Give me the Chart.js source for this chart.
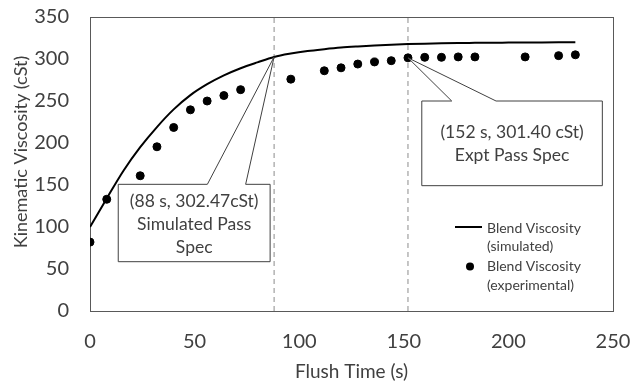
<!DOCTYPE html>
<html lang="en">
<head>
  <meta charset="UTF-8">
  <title>Blend Viscosity vs Flush Time</title>
  <script src="https://cdn.jsdelivr.net/npm/chart.js"></script>
  <style>
    html, body { margin: 0; padding: 0; background: #fff; }
    #wrap { width: 637px; height: 383px; }
  </style>
</head>
<body>
  <div id="wrap"><canvas id="viscChart" width="637" height="383"></canvas></div>

  <script>
    // simulated curve
    const simTime = [0, 8, 16, 24, 32, 40, 48, 56, 64, 72, 80, 88, 96, 104, 112, 120, 128, 136, 144, 152, 160, 168, 176, 184, 192, 200, 208, 216, 224, 232];
    const simVisc = [100, 134, 167, 195, 219, 240, 257, 270, 280.5, 289, 296, 302.47, 306.5, 309.5, 311.7, 313.6, 315, 316.2, 317.1, 317.8, 318.3, 318.7, 319, 319.2, 319.4, 319.5, 319.6, 319.7, 319.8, 319.9];

    // experimental points
    const expTime = [0, 8, 24, 32, 40, 48, 56, 64, 72, 96, 112, 120, 128, 136, 144, 152, 160, 168, 176, 184, 208, 224, 232];
    const expVisc = [82, 133, 161, 195.5, 218.5, 239.5, 250, 256.5, 263.5, 276, 286, 289.5, 294, 296.5, 298, 301.4, 302, 302, 302.5, 302.5, 302.5, 304, 305];

    // pass spec markers
    const specTime = [88, 152];
    const specVisc = [302.47, 301.40];
    const specText = [
      ['(88 s, 302.47cSt)', 'Simulated Pass', 'Spec'],
      ['(152 s, 301.40 cSt)', 'Expt Pass Spec']
    ];

    const xTicks = [0, 50, 100, 150, 200, 250];
    const yTicks = [0, 50, 100, 150, 200, 250, 300, 350];

    const legendText = [['Blend Viscosity', '(simulated)'], ['Blend Viscosity', '(experimental)']];

    const textColor = '#404040';
    const fontFamily = 'Lato, "Open Sans", sans-serif';

    // callout box geometry, in axis units
    const calloutBoxes = [
      { x0: 13.5, x1: 86.1, yTop: 150.8, yBot: 58.7, b0: 56.1, b1: 74.4 },
      { x0: 158.6, x1: 244.9, yTop: 250, yBot: 149.2, b0: 172.9, b1: 194.1 }
    ];

    const toPts = (xs, ys) => xs.map((x, i) => ({ x: x, y: ys[i] }));

    const specLineSets = specTime.map(t => ({
      data: [{ x: t, y: yTicks[0] }, { x: t, y: yTicks[yTicks.length - 1] }],
      showLine: true,
      borderColor: '#8c8c8c',
      borderWidth: 1,
      borderDash: [5, 4],
      pointRadius: 0,
      order: 3
    }));

    const framePlugin = {
      id: 'frame',
      beforeDatasetsDraw(chart) {
        const a = chart.chartArea, ctx = chart.ctx;
        ctx.save();
        ctx.strokeStyle = '#595959';
        ctx.lineWidth = 1;
        ctx.strokeRect(Math.round(a.left) + 0.5, Math.round(a.top) + 0.5, Math.round(a.width), Math.round(a.height));
        ctx.restore();
      }
    };

    const calloutPlugin = {
      id: 'callouts',
      afterDatasetsDraw(chart) {
        const ctx = chart.ctx, xs = chart.scales.x, ys = chart.scales.y;
        ctx.save();
        calloutBoxes.forEach((b, i) => {
          const L = xs.getPixelForValue(b.x0), R = xs.getPixelForValue(b.x1);
          const T = ys.getPixelForValue(b.yTop), B = ys.getPixelForValue(b.yBot);
          const tipX = xs.getPixelForValue(specTime[i]), tipY = ys.getPixelForValue(specVisc[i]);
          ctx.beginPath();
          ctx.moveTo(L, T);
          ctx.lineTo(xs.getPixelForValue(b.b0), T);
          ctx.lineTo(tipX, tipY);
          ctx.lineTo(xs.getPixelForValue(b.b1), T);
          ctx.lineTo(R, T);
          ctx.lineTo(R, B);
          ctx.lineTo(L, B);
          ctx.closePath();
          ctx.fillStyle = '#fff';
          ctx.fill();
          ctx.strokeStyle = '#404040';
          ctx.lineWidth = 1;
          ctx.stroke();

          const lines = specText[i];
          const lh = 23;
          const cx = (L + R) / 2, cy = (T + B) / 2 + 1;
          ctx.fillStyle = textColor;
          ctx.font = '17.5px ' + fontFamily;
          ctx.textAlign = 'center';
          ctx.textBaseline = 'middle';
          lines.forEach((s, k) => {
            ctx.fillText(s, cx, cy + (k - (lines.length - 1) / 2) * lh);
          });
        });

        // legend, bottom right inside the plot
        const a = chart.chartArea;
        const tx = a.right - 126;
        const y0 = a.bottom - 83;
        ctx.font = '14px ' + fontFamily;
        ctx.textAlign = 'left';
        ctx.textBaseline = 'middle';
        ctx.fillStyle = textColor;
        legendText.forEach((pair, k) => {
          const y = y0 + k * 38.5;
          ctx.fillText(pair[0], tx, y);
          ctx.fillText(pair[1], tx, y + 18.5);
        });
        ctx.strokeStyle = '#000';
        ctx.lineWidth = 2;
        ctx.beginPath();
        ctx.moveTo(tx - 32, y0 - 1);
        ctx.lineTo(tx - 5, y0 - 1);
        ctx.stroke();
        ctx.fillStyle = '#000';
        ctx.beginPath();
        ctx.arc(tx - 17, y0 + 38.5, 4, 0, Math.PI * 2);
        ctx.fill();

        // y axis title
        ctx.save();
        ctx.translate(21.5, 152);
        ctx.rotate(-Math.PI / 2);
        ctx.font = '18px ' + fontFamily;
        ctx.textAlign = 'center';
        ctx.textBaseline = 'middle';
        ctx.fillStyle = textColor;
        ctx.fillText('Kinematic Viscosity (cSt)', 0, 0);
        ctx.restore();
        ctx.restore();
      }
    };

    const hiddenTicks = len => ({ display: true, drawOnChartArea: false, drawTicks: true, tickLength: len, tickColor: 'rgba(0,0,0,0)' });

    const ctx = document.getElementById('viscChart').getContext('2d');
    new Chart(ctx, {
      type: 'scatter',
      data: {
        datasets: [
          {
            label: 'Blend Viscosity (simulated)',
            data: toPts(simTime, simVisc),
            showLine: true,
            borderColor: '#000',
            borderWidth: 2,
            pointRadius: 0,
            cubicInterpolationMode: 'monotone',
            order: 1
          },
          {
            label: 'Blend Viscosity (experimental)',
            data: toPts(expTime, expVisc),
            backgroundColor: '#000',
            borderColor: '#000',
            pointRadius: 4,
            pointHoverRadius: 4,
            order: 0
          },
          ...specLineSets
        ]
      },
      options: {
        responsive: false,
        animation: false,
        layout: { padding: { top: 17, right: 24, left: 0, bottom: 0 } },
        plugins: {
          legend: { display: false },
          tooltip: { enabled: false }
        },
        scales: {
          x: {
            type: 'linear',
            min: xTicks[0],
            max: xTicks[xTicks.length - 1],
            afterFit: s => { s.height = 72; },
            afterBuildTicks: s => { s.ticks = xTicks.map(v => ({ value: v })); },
            grid: hiddenTicks(19),
            border: { display: false },
            ticks: { color: textColor, font: { family: fontFamily, size: 20 }, padding: 0, maxRotation: 0 },
            title: {
              display: true,
              text: 'Flush Time (s)',
              color: textColor,
              font: { family: fontFamily, size: 19 },
              padding: { top: 0, bottom: 0 }
            }
          },
          y: {
            type: 'linear',
            min: yTicks[0],
            max: yTicks[yTicks.length - 1],
            afterFit: s => { s.width = 90; },
            afterBuildTicks: s => { s.ticks = yTicks.map(v => ({ value: v })); },
            grid: hiddenTicks(21),
            border: { display: false },
            ticks: { color: textColor, font: { family: fontFamily, size: 20 }, padding: 0 },
            title: { display: false }
          }
        }
      },
      plugins: [framePlugin, calloutPlugin]
    });
  </script>
</body>
</html>
